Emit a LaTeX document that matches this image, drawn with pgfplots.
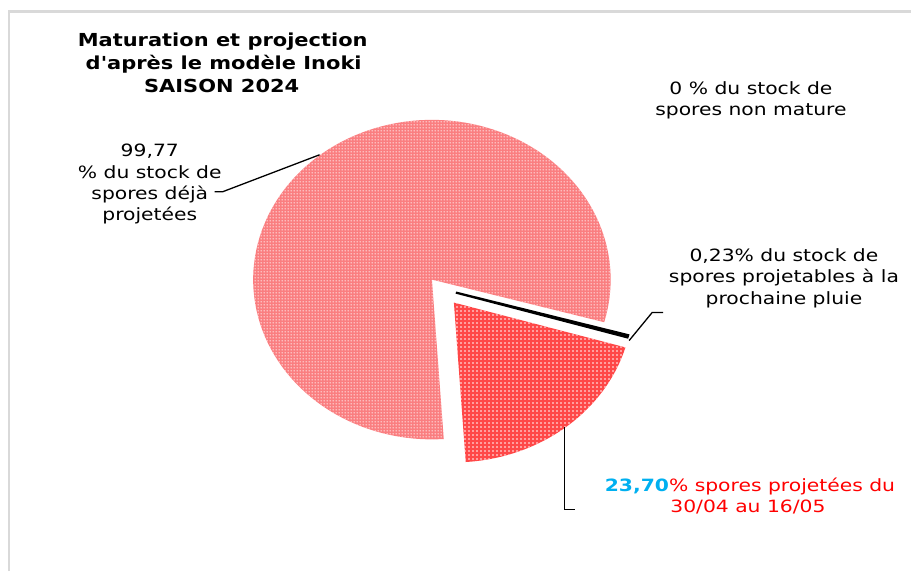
\documentclass[border=0pt]{standalone}
\usepackage{pgfplots}
\pgfplotsset{compat=1.18}
\usepackage{pgfplotstable}
\usepackage{graphicx}
\usepackage{fontspec}
\setmainfont{DejaVu Sans}
\usetikzlibrary{patterns.meta}

\definecolor{pieA}{RGB}{255,72,72}
\definecolor{pieB}{RGB}{250,126,128}
\definecolor{cyanlbl}{RGB}{0,176,240}
\definecolor{redlbl}{RGB}{255,0,0}
\definecolor{framegray}{RGB}{217,217,217}

\tikzdeclarepattern{
  name=reddots, type=uncolored,
  bounding box={(0bp,0bp) and (4bp,4bp)},
  tile size={(4bp,4bp)},
  code={\fill (2bp,2bp) circle (0.9bp);}
}
\tikzdeclarepattern{
  name=pinkdots, type=uncolored,
  bounding box={(0bp,0bp) and (2.6bp,2.6bp)},
  tile size={(2.6bp,2.6bp)},
  code={\fill (1.3bp,1.3bp) circle (0.85bp);}
}

\newcommand\lbl[1]{\scalebox{1.20}[1]{\fontsize{17}{20}\selectfont #1}}
\newcommand\ttl[1]{\scalebox{1.17}[1]{\fontsize{18}{21}\selectfont\bfseries #1}}

% pie data: value (%), explode offset dx, dy (px)
\pgfplotstableread{
name value dx dy
projetees 19.42 22 -23
projetables 0.23 24 -13
deja 80.35 0 0
nonmature 0.00 0 0
}\piedata

\pgfplotstablegetelem{0}{value}\of\piedata \edef\vA{\pgfplotsretval}
\pgfplotstablegetelem{0}{dx}\of\piedata \edef\dxA{\pgfplotsretval}
\pgfplotstablegetelem{0}{dy}\of\piedata \edef\dyA{\pgfplotsretval}
\pgfplotstablegetelem{1}{value}\of\piedata \edef\vB{\pgfplotsretval}
\pgfplotstablegetelem{1}{dx}\of\piedata \edef\dxB{\pgfplotsretval}
\pgfplotstablegetelem{1}{dy}\of\piedata \edef\dyB{\pgfplotsretval}
\pgfplotstablegetelem{2}{value}\of\piedata \edef\vC{\pgfplotsretval}

\def\cx{432.5}
\def\cy{292}
\def\rx{179}
\def\ry{160}
\pgfmathsetmacro\aA{-86.2}
\pgfmathsetmacro\aB{\aA+3.6*\vA}
\pgfmathsetmacro\aC{\aB+3.6*\vB}
\pgfmathsetmacro\aD{\aC+3.6*\vC}

\begin{document}
\begin{tikzpicture}
\begin{axis}[
  width=912bp, height=572bp, scale only axis,
  xmin=0, xmax=912, ymin=0, ymax=572,
  hide axis, clip=false,
]
\path (0,0) rectangle (912,572);
% frame
\draw[framegray, line width=2.5bp] (9,0) -- (9,560.5) -- (912,560.5);

% big slice (deja projetees)
\addplot[draw=none, fill=pieB, postaction={pattern=pinkdots, pattern color=white!92!pink},
  domain=\aC:\aD, samples=120, variable=\t]
  ({\cx+\rx*cos(\t)}, {\cy+\ry*sin(\t)}) -- (axis cs:\cx,\cy) -- cycle;

% exploded slice (projetees du 30/04 au 16/05)
\addplot[draw=none, fill=pieA, postaction={pattern=reddots, pattern color=white!90!pink},
  domain=\aA:\aB, samples=60, variable=\t]
  ({\cx+\dxA+\rx*cos(\t)}, {\cy+\dyA+\ry*sin(\t)}) -- (axis cs:{\cx+\dxA},{\cy+\dyA}) -- cycle;

% thin slice (projetables)
\addplot[draw=black, fill=black, line width=2.2bp, line join=miter,
  domain=\aB:\aC, samples=4, variable=\t]
  ({\cx+\dxB+\rx*cos(\t)}, {\cy+\dyB+\ry*sin(\t)}) -- (axis cs:{\cx+\dxB},{\cy+\dyB}) -- cycle;

% leader lines
\draw[black, line width=1.3bp] (215,380) -- (223,380) -- (320,417);
\draw[black, line width=1.3bp] (630,231) -- (653,259) -- (664,259);
\draw[black, line width=1.3bp] (565,144) -- (565,62) -- (576,62);

% title
\node[anchor=base, inner sep=0] at (223,525.3) {\ttl{Maturation et projection}};
\node[anchor=base, inner sep=0] at (224,502.7) {\ttl{d\textquotesingle après le modèle Inoki}};
\node[anchor=base, inner sep=0] at (222,479.3) {\ttl{SAISON 2024}};

% labels
\node[anchor=base, inner sep=0] at (150,415.3) {\lbl{99,77}};
\node[anchor=base, inner sep=0] at (150,393.7) {\lbl{\% du stock de}};
\node[anchor=base, inner sep=0] at (150,372.2) {\lbl{spores déjà}};
\node[anchor=base, inner sep=0] at (150,350.7) {\lbl{projetées}};

\node[anchor=base, inner sep=0] at (752,477.7) {\lbl{0 \% du stock de}};
\node[anchor=base, inner sep=0] at (752,456.2) {\lbl{spores non mature}};

\node[anchor=base, inner sep=0] at (785,310.3) {\lbl{0,23\% du stock de}};
\node[anchor=base, inner sep=0] at (785,288.8) {\lbl{spores projetables à la}};
\node[anchor=base, inner sep=0] at (785,267.3) {\lbl{prochaine pluie}};

\node[anchor=base, inner sep=0] at (751,80.3) {\lbl{\textcolor{cyanlbl}{\bfseries 23,70}\textcolor{redlbl}{\% spores projetées du}}};
\node[anchor=base, inner sep=0] at (749,58.8) {\lbl{\textcolor{redlbl}{30/04 au 16/05}}};
\end{axis}
\end{tikzpicture}
\end{document}
